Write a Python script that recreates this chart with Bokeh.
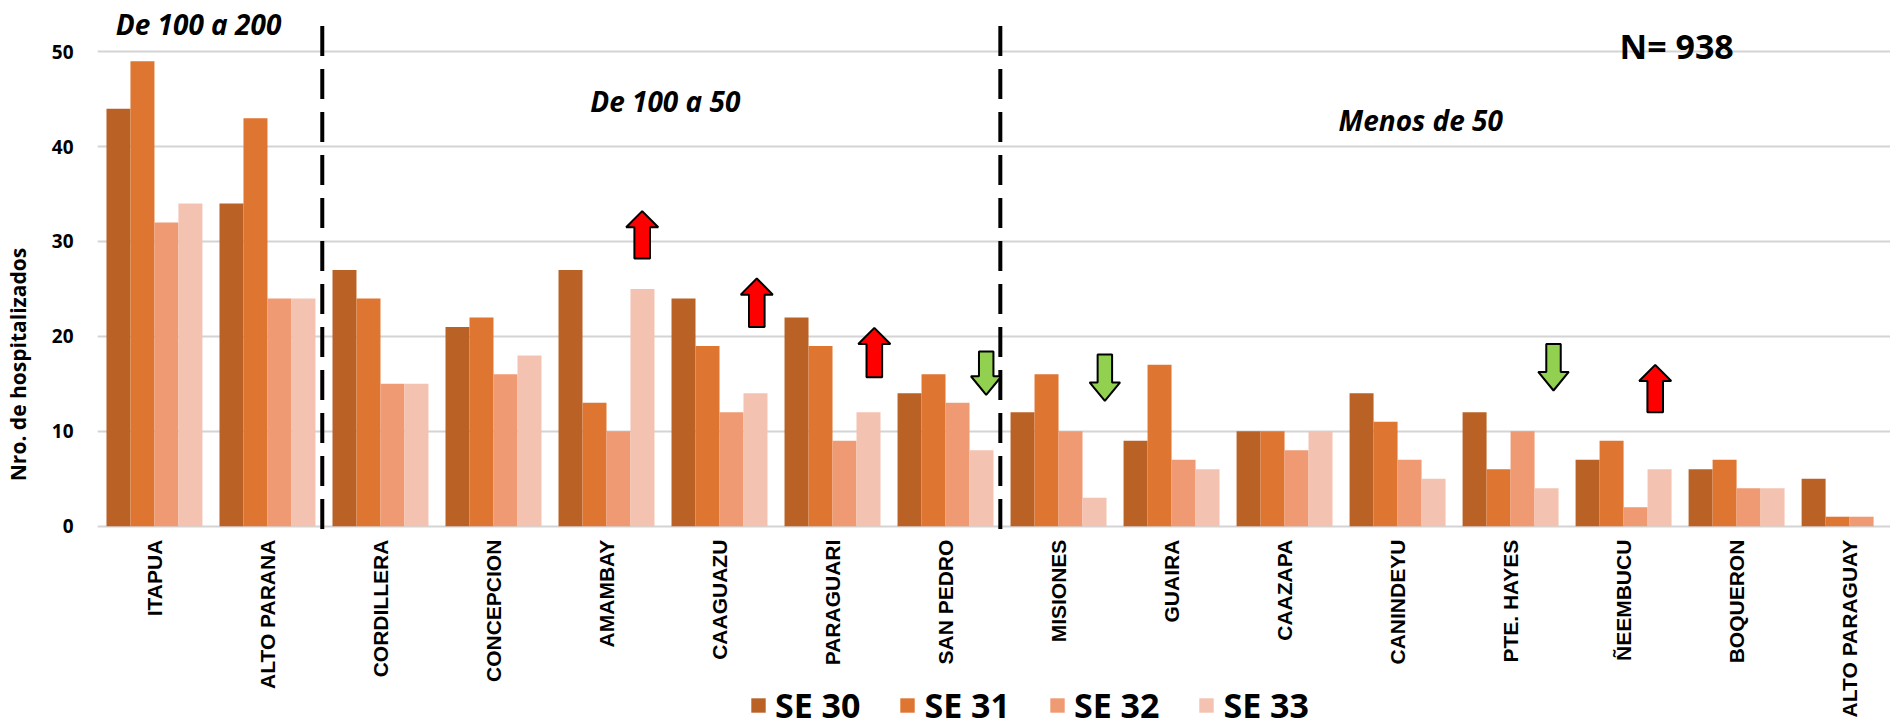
import math
from bokeh.plotting import figure
from bokeh.models import Range1d, FixedTicker, Legend, LegendItem, Label, ColumnDataSource
from bokeh.core.properties import value
from bokeh.embed import file_html
from bokeh.resources import INLINE

# ---------------- data ----------------
departments = ["ITAPUA", "ALTO PARANA", "CORDILLERA", "CONCEPCION", "AMAMBAY",
               "CAAGUAZU", "PARAGUARI", "SAN PEDRO", "MISIONES", "GUAIRA",
               "CAAZAPA", "CANINDEYU", "PTE. HAYES", "ÑEEMBUCU", "BOQUERON",
               "ALTO PARAGUAY"]
series_names = ["SE 30", "SE 31", "SE 32", "SE 33"]
se30 = [44, 34, 27, 21, 27, 24, 22, 14, 12, 9, 10, 14, 12, 7, 6, 5]
se31 = [49, 43, 24, 22, 13, 19, 19, 16, 16, 17, 10, 11, 6, 9, 7, 1]
se32 = [32, 24, 15, 16, 10, 12, 9, 13, 10, 7, 8, 7, 10, 2, 4, 1]
se33 = [34, 24, 15, 18, 25, 14, 12, 8, 3, 6, 10, 5, 4, 6, 4, 0]
y_ticks = [0, 10, 20, 30, 40, 50]
y_axis_title = "Nro. de hospitalizados"
group_titles = ["De 100 a 200", "De 100 a 50", "Menos de 50"]
group_last_members = ["ALTO PARANA", "SAN PEDRO"]   # dashed separators after these
total_label = "N= 938"
# trend arrows: (department, direction)
trend_arrows = [("AMAMBAY", "up"), ("CAAGUAZU", "up"), ("PARAGUARI", "up"),
                ("SAN PEDRO", "down"), ("MISIONES", "down"),
                ("PTE. HAYES", "down"), ("ÑEEMBUCU", "up")]

# ---------------- styles / layout ----------------
colors = ["#BA6226", "#DE7530", "#EF9A73", "#F4C2B1"]
bar_w = 0.2123
arrow_layout = {  # offset from category centre, bottom, top (annotation placement)
    "AMAMBAY": (0.316, 28.2, 33.2),
    "CAAGUAZU": (0.33, 21.0, 26.1),
    "PARAGUARI": (0.37, 15.7, 20.9),
    "SAN PEDRO": (0.36, 13.85, 18.4),
    "MISIONES": (0.41, 13.2, 18.1),
    "PTE. HAYES": (0.38, 14.3, 19.2),
    "ÑEEMBUCU": (0.28, 12.0, 17.0),
}
title_pos = [(0.39, 52.9), (4.52, 44.85), (11.205, 42.85)]
total_pos = (13.47, 50.65)
cat_label_y = -1.42

p = figure(width=1890, height=728, output_backend="svg", toolbar_location=None,
           x_range=Range1d(-0.504, 15.362), y_range=Range1d(-21.317, 55.395),
           x_axis_location=None,
           min_border_left=96, min_border_right=0, min_border_top=0,
           min_border_bottom=0)
p.outline_line_color = None
p.background_fill_color = "white"
p.border_fill_color = "white"

idx = list(range(len(departments)))
all_series = [se30, se31, se32, se33]
renderers = []
for k, (vals, name) in enumerate(zip(all_series, series_names)):
    off = (k - 1.5) * bar_w
    src = ColumnDataSource(dict(x=[i + off for i in idx], top=vals))
    r = p.vbar(x="x", top="top", width=bar_w, bottom=0, source=src,
               fill_color=colors[k], line_color=None)
    renderers.append(r)

# category labels (rotated, under the zero line)
p.text(x=idx, y=[cat_label_y] * len(idx), text=departments, angle=math.pi / 2,
       text_align="right", text_baseline="middle",
       text_font=value("Liberation Sans"), text_font_style="bold",
       text_font_size="21px", text_color="black")

# group separators
for name in group_last_members:
    xs = departments.index(name) + 0.485
    p.segment(x0=[xs], y0=[-0.3], x1=[xs], y1=[53.1], line_color="black",
              line_width=4, line_dash="30 13")

# arrows
xs_list, ys_list, fills = [], [], []
for dept, direction in trend_arrows:
    off, y0, y1 = arrow_layout[dept]
    cx = departments.index(dept) + off
    if direction == "up":
        sw, hw, hh = 0.069, 0.142, 1.7
        xs_list.append([cx - sw, cx + sw, cx + sw, cx + hw, cx, cx - hw, cx - sw])
        ys_list.append([y0, y0, y1 - hh, y1 - hh, y1, y1 - hh, y1 - hh])
        fills.append("#FF0000")
    else:
        sw, hw, hh = 0.064, 0.135, 1.95
        xs_list.append([cx - sw, cx + sw, cx + sw, cx + hw, cx, cx - hw, cx - sw])
        ys_list.append([y1, y1, y0 + hh, y0 + hh, y0, y0 + hh, y0 + hh])
        fills.append("#92D050")
p.patches(xs="xs", ys="ys", fill_color="fc", line_color="black", line_width=2,
          source=ColumnDataSource(dict(xs=xs_list, ys=ys_list, fc=fills)))

# titles
for t, (tx, ty) in zip(group_titles, title_pos):
    p.add_layout(Label(x=tx, y=ty, text=t, text_font="Open Sans",
                       text_font_style="bold italic", text_font_size="28px",
                       text_align="center", text_baseline="middle",
                       text_color="black"))
p.add_layout(Label(x=total_pos[0], y=total_pos[1], text=total_label,
                   text_font="Open Sans", text_font_style="bold",
                   text_font_size="34px", text_align="center",
                   text_baseline="middle", text_color="black"))

# y axis
p.yaxis.ticker = FixedTicker(ticks=y_ticks)
p.yaxis.major_label_text_font = "Open Sans"
p.yaxis.major_label_text_font_style = "bold"
p.yaxis.major_label_text_font_size = "19px"
p.yaxis.major_label_text_color = "black"
p.yaxis.major_label_standoff = 18
p.yaxis.major_tick_line_color = None
p.yaxis.minor_tick_line_color = None
p.yaxis.axis_line_color = None
p.yaxis.axis_label = y_axis_title
p.yaxis.axis_label_text_font = "Open Sans"
p.yaxis.axis_label_text_font_style = "bold"
p.yaxis.axis_label_text_font_size = "21px"
p.yaxis.axis_label_text_color = "black"
p.yaxis.axis_label_standoff = 17

p.xgrid.grid_line_color = None
p.ygrid.grid_line_color = "#D4D4D4"
p.ygrid.grid_line_width = 2

legend = Legend(items=[LegendItem(label=n, renderers=[r]) for n, r in zip(series_names, renderers)],
                orientation="horizontal", location=(652, 0))
legend.label_text_font = "Open Sans"
legend.label_text_font_style = "bold"
legend.label_text_font_size = "34px"
legend.label_text_color = "black"
legend.glyph_width = 18
legend.glyph_height = 18
legend.label_standoff = 8
legend.spacing = 38
legend.padding = 0
legend.margin = 0
legend.border_line_color = None
legend.background_fill_alpha = 0
p.add_layout(legend, "center")

open("out.html", "w").write(file_html(p, INLINE))
